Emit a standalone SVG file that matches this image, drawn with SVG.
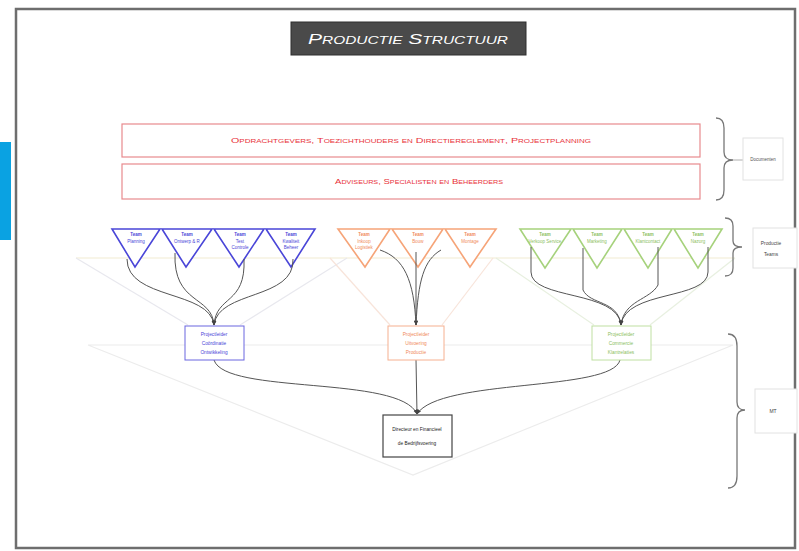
<svg xmlns="http://www.w3.org/2000/svg" width="799" height="551" viewBox="0 0 799 551">
<defs>
<style>
.t{font-family:"Liberation Sans",Arial,sans-serif}
.sc{font-variant:small-caps}
.red{fill:#e8323a;font-size:8px}
.faint{fill:none;stroke-width:1.2}
.conn{fill:none;stroke:#555;stroke-width:1}
.brace{fill:none;stroke:#777;stroke-width:1.3}
.lbl{fill:#fff;stroke:#e2e2e2;stroke-width:1}
.tt{font-size:4.5px;text-anchor:middle}
.bt{font-size:4.8px;text-anchor:middle}
</style>
<marker id="ah" viewBox="0 0 10 10" refX="9" refY="5" markerWidth="5" markerHeight="5" orient="auto">
<path d="M0,1 L10,5 L0,9 z" fill="#444"/>
</marker>
</defs>
<rect x="0" y="0" width="799" height="551" fill="#fff"/>
<rect x="0" y="142" width="11" height="98" fill="#0aa2e2"/>
<rect x="16" y="9" width="779" height="539" fill="#fff" stroke="#6e6e6e" stroke-width="2.5"/>

<g id="title">
<rect x="291" y="22" width="235" height="33" fill="#4a4a4a" stroke="#2e2e2e" stroke-width="1"/>
<text class="t sc" x="408" y="44" font-size="15" font-style="italic" fill="#fff" text-anchor="middle" textLength="200" lengthAdjust="spacingAndGlyphs">Productie Structuur</text>
</g>

<g id="faint-lines">
<line class="faint" x1="76" y1="258" x2="735" y2="258" stroke="#f1ecd2"/>
<polyline class="faint" points="76,258 188,325" stroke="#e8e8ee"/>
<polyline class="faint" points="347,258 240,325" stroke="#e8e8ee"/>
<polyline class="faint" points="330,258 390,325" stroke="#f8e4da"/>
<polyline class="faint" points="493,258 442,325" stroke="#f8e4da"/>
<polyline class="faint" points="496,258 594,325" stroke="#e8f0e0"/>
<polyline class="faint" points="735,258 650,325" stroke="#e8f0e0"/>
<polyline class="faint" points="88,345 413,475 733,345 88,345" stroke="#ececec"/>
</g>

<g id="doc1">
<rect x="122" y="124" width="578" height="33" fill="#fff" stroke="#e88a8e" stroke-width="1.2"/>
<text class="t sc red" x="411" y="143" text-anchor="middle" textLength="360" lengthAdjust="spacingAndGlyphs">Opdrachtgevers, Toezichthouders en Directiereglement, Projectplanning</text>
</g>
<g id="doc2">
<rect x="122" y="164" width="578" height="35" fill="#fff" stroke="#e88a8e" stroke-width="1.2"/>
<text class="t sc red" x="419" y="184" text-anchor="middle" textLength="168" lengthAdjust="spacingAndGlyphs">Adviseurs, Specialisten en Beheerders</text>
</g>

<g id="brace-doc">
<path class="brace" d="M716,118 Q724,118 724,128 L724,152 Q724,160 733,160 Q724,160 724,168 L724,190 Q724,200 716,200"/>
<line x1="733" y1="160" x2="743" y2="160" stroke="#999" stroke-width="0.8"/>
<rect class="lbl" x="743" y="138" width="40" height="42"/>
<text class="t" x="763" y="161" font-size="4.5" text-anchor="middle" fill="#555">Documenten</text>
</g>
<g id="brace-teams">
<path class="brace" d="M725,218 Q733,218 733,226 L733,241 Q733,247 742,247 Q733,247 733,253 L733,268 Q733,276 725,276"/>
<rect class="lbl" x="753" y="228" width="44" height="40"/>
<text class="t" x="771" y="245" font-size="4.8" text-anchor="middle" fill="#444">Productie</text>
<text class="t" x="771" y="256" font-size="4.8" text-anchor="middle" fill="#444">Teams</text>
</g>
<g id="brace-mt">
<path class="brace" d="M728,334 Q737,334 737,346 L737,402 Q737,410 745,410 Q737,410 737,418 L737,476 Q737,488 728,488"/>
<rect class="lbl" x="755" y="389" width="42" height="44"/>
<text class="t" x="773" y="413" font-size="5" text-anchor="middle" fill="#444">MT</text>
</g>

<g id="team-blue" fill="#fff" stroke="#4a46d8" stroke-width="1.6">
<polygon points="112,229 160,229 135,267"/>
<polygon points="162,229 212,229 186,267"/>
<polygon points="214,229 264,229 239,267"/>
<polygon points="266,229 315,229 291,267"/>
<g class="t" fill="#4a46d8" stroke="none">
<text class="tt" x="136" y="236" font-weight="bold">Team</text><text class="tt" x="136" y="243">Planning</text>
<text class="tt" x="187" y="236" font-weight="bold">Team</text><text class="tt" x="187" y="243">Ontwerp &amp; R</text>
<text class="tt" x="240" y="236" font-weight="bold">Team</text><text class="tt" x="240" y="243">Test</text><text class="tt" x="240" y="249">Controle</text>
<text class="tt" x="291" y="236" font-weight="bold">Team</text><text class="tt" x="291" y="243">Kwaliteit</text><text class="tt" x="291" y="249">Beheer</text>
</g>
</g>
<g id="team-orange" fill="#fff" stroke="#f6a478" stroke-width="1.6">
<polygon points="338,229 390,229 365,267"/>
<polygon points="392,229 443,229 418,267"/>
<polygon points="445,229 496,229 470,267"/>
<g class="t" fill="#f08a5a" stroke="none">
<text class="tt" x="364" y="236" font-weight="bold">Team</text><text class="tt" x="364" y="243">Inkoop</text><text class="tt" x="364" y="249">Logistiek</text>
<text class="tt" x="418" y="236" font-weight="bold">Team</text><text class="tt" x="418" y="243">Bouw</text>
<text class="tt" x="470" y="236" font-weight="bold">Team</text><text class="tt" x="470" y="243">Montage</text>
</g>
</g>
<g id="team-green" fill="#fff" stroke="#a6d27c" stroke-width="1.6">
<polygon points="520,229 571,229 545,268"/>
<polygon points="573,229 622,229 597,268"/>
<polygon points="624,229 672,229 648,268"/>
<polygon points="674,229 722,229 698,268"/>
<g class="t" fill="#8cc060" stroke="none">
<text class="tt" x="545" y="236" font-weight="bold">Team</text><text class="tt" x="545" y="243">Verkoop Service</text>
<text class="tt" x="597" y="236" font-weight="bold">Team</text><text class="tt" x="597" y="243">Marketing</text>
<text class="tt" x="648" y="236" font-weight="bold">Team</text><text class="tt" x="648" y="243">Klantcontact</text>
<text class="tt" x="698" y="236" font-weight="bold">Team</text><text class="tt" x="698" y="243">Nazorg</text>
</g>
</g>

<g id="connectors">
<path class="conn" marker-end="url(#ah)" d="M127,259 C127,300 210,290 214,325"/>
<path class="conn" marker-end="url(#ah)" d="M175,253 C173,305 212,295 214,325"/>
<path class="conn" marker-end="url(#ah)" d="M244,259 C246,305 216,295 214,325"/>
<path class="conn" marker-end="url(#ah)" d="M293,259 C295,300 218,290 214,325"/>
<path class="conn" marker-end="url(#ah)" d="M380,250 C404,258 414,280 416,325"/>
<path class="conn" marker-end="url(#ah)" d="M416,252 L416,325"/>
<path class="conn" marker-end="url(#ah)" d="M441,250 C424,260 418,280 416,325"/>
<path class="conn" marker-end="url(#ah)" d="M531,247 L531,272 C531,300 618,290 621,325"/>
<path class="conn" marker-end="url(#ah)" d="M583,248 L583,290 C590,305 618,300 621,325"/>
<path class="conn" marker-end="url(#ah)" d="M658,247 L658,285 C650,300 624,300 621,325"/>
<path class="conn" marker-end="url(#ah)" d="M708,247 L708,272 C708,300 625,290 621,325"/>
<path class="conn" marker-end="url(#ah)" d="M214,360 C225,395 400,375 417,414"/>
<path class="conn" marker-end="url(#ah)" d="M416,360 L417,414"/>
<path class="conn" marker-end="url(#ah)" d="M620,360 C612,392 440,378 417,414"/>
</g>

<g id="lead-blue">
<rect x="185" y="326" width="59" height="34" fill="#fff" stroke="#6a66e0" stroke-width="1"/>
<g class="t" fill="#4a46d8"><text class="bt" x="214" y="336">Projectleider</text><text class="bt" x="214" y="345">Coördinatie</text><text class="bt" x="214" y="354">Ontwikkeling</text></g>
</g>
<g id="lead-orange">
<rect x="388" y="326" width="56" height="34" fill="#fff" stroke="#f6b090" stroke-width="1"/>
<g class="t" fill="#f08a5a"><text class="bt" x="416" y="336">Projectleider</text><text class="bt" x="416" y="345">Uitvoering</text><text class="bt" x="416" y="354">Productie</text></g>
</g>
<g id="lead-green">
<rect x="592" y="326" width="59" height="34" fill="#fff" stroke="#bfe0a2" stroke-width="1"/>
<g class="t" fill="#8cc060"><text class="bt" x="621" y="336">Projectleider</text><text class="bt" x="621" y="345">Commercie</text><text class="bt" x="621" y="354">Klantrelaties</text></g>
</g>
<g id="mt">
<rect x="383" y="415" width="69" height="42" fill="#fff" stroke="#444" stroke-width="1.2"/>
<g class="t" fill="#222"><text class="bt" x="417" y="431" font-size="5">Directeur en Financieel</text><text class="bt" x="417" y="445" font-size="5">de Bedrijfsvoering</text></g>
</g>
</svg>
